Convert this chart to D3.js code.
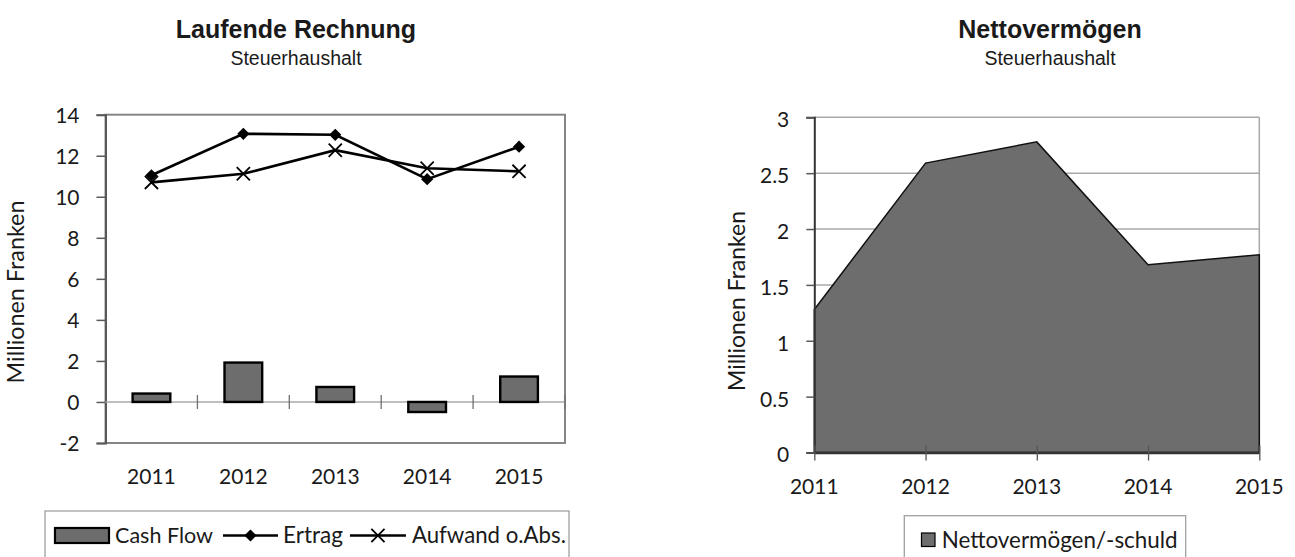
<!DOCTYPE html>
<html>
<head>
<meta charset="utf-8">
<script src="https://cdn.jsdelivr.net/npm/d3@7"></script>
<style>
  html, body { margin: 0; padding: 0; background: #fff; }
  svg { display: block; }
  text { font-family: Lato, "Open Sans", sans-serif; fill: #1a1a1a; }
  .title { font-family: "Liberation Sans", Arial, sans-serif; font-weight: bold; }
  .subtitle { font-family: "Liberation Sans", Arial, sans-serif; }
</style>
</head>
<body>
<svg id="chart" width="1295" height="557"></svg>
<script>
// Jahre (Kategorien)
const years = ["2011", "2012", "2013", "2014", "2015"];

// Laufende Rechnung, Steuerhaushalt (Mio. Fr.)
const cashFlow = [0.41, 1.92, 0.73, -0.49, 1.24];
const ertrag   = [11.05, 13.07, 13.02, 10.86, 12.44];
const aufwand  = [10.70, 11.12, 12.27, 11.39, 11.24];

// Nettovermögen / -schuld (Mio. Fr.)
const netto = [1.28, 2.59, 2.78, 1.68, 1.77];

// Achsenbeschriftungen
const leftTicks  = [-2, 0, 2, 4, 6, 8, 10, 12, 14];
const rightTicks = [0, 0.5, 1, 1.5, 2, 2.5, 3];

const svg = d3.select("#chart");
const FS = 21;            // Schriftgrösse Achsenbeschriftung
const AXIS = "#595959", BORDER = "#868686", GRID = "#a8a8a8", FILL = "#6d6d6d";

// Schrift so skalieren, dass der Text eine vorgegebene Breite einnimmt
function fitWidth(sel, width) {
  sel.style("font-size", "20px");
  const w = sel.node().getComputedTextLength();
  sel.style("font-size", (20 * width / w).toFixed(2) + "px");
  return sel;
}

// ---------- Titel ----------
function titles(cx, main) {
  svg.append("text").attr("class", "title").attr("x", cx).attr("y", 38)
    .attr("text-anchor", "middle").style("font-size", "25px").text(main);
  svg.append("text").attr("class", "subtitle").attr("x", cx).attr("y", 64.5)
    .attr("text-anchor", "middle").style("font-size", "19.5px").text("Steuerhaushalt");
}
titles(296, "Laufende Rechnung");
titles(1050, "Nettovermögen");

// ---------- Linkes Diagramm: Laufende Rechnung ----------
const L = { left: 105.5, right: 565, top: 114.7, bottom: 443 };
const xL = d3.scaleBand().domain(years).range([L.left, L.right]).paddingInner(0).paddingOuter(0);
const yL = d3.scaleLinear().domain([-2, 14]).range([L.bottom, L.top]);
const gL = svg.append("g");

// Rahmen der Zeichenfläche
gL.append("rect").attr("x", L.left).attr("y", L.top)
  .attr("width", L.right - L.left).attr("height", L.bottom - L.top)
  .attr("fill", "none").attr("stroke", BORDER).attr("stroke-width", 2);

// Y-Achse
const axL = gL.append("g").attr("transform", `translate(${L.left},0)`)
  .call(d3.axisLeft(yL).tickValues(leftTicks).tickSize(9).tickPadding(17).tickFormat(d => String(d)));
axL.select(".domain").attr("stroke", AXIS).attr("stroke-width", 2);
axL.selectAll(".tick line").attr("stroke", AXIS).attr("stroke-width", 1.5);
axL.selectAll(".tick text").style("font-size", FS + "px").attr("fill", "#1a1a1a")
  .attr("font-family", "Lato").attr("dy", "0.38em");

// Nulllinie mit Kategorien-Strichen
gL.append("line").attr("x1", L.left).attr("x2", L.right)
  .attr("y1", yL(0)).attr("y2", yL(0)).attr("stroke", GRID).attr("stroke-width", 1.5);
gL.append("g").selectAll("line").data(years.slice(1).concat(["end"])).join("line")
  .attr("x1", d => d === "end" ? L.right : xL(d)).attr("x2", d => d === "end" ? L.right : xL(d))
  .attr("y1", yL(0) - 7).attr("y2", yL(0) + 7)
  .attr("stroke", "#707070").attr("stroke-width", 1.3);

// X-Beschriftung
gL.append("g").selectAll("text").data(years).join("text")
  .attr("x", d => xL(d) + xL.bandwidth() / 2).attr("y", 483.5)
  .attr("text-anchor", "middle").style("font-size", FS + "px").text(d => d);

// Balken Cash Flow
const bw = xL.bandwidth() * 0.41;
gL.append("g").selectAll("rect").data(years).join("rect")
  .attr("x", d => xL(d) + xL.bandwidth() / 2 - bw / 2)
  .attr("width", bw)
  .attr("y", (d, i) => yL(Math.max(0, cashFlow[i])))
  .attr("height", (d, i) => Math.abs(yL(cashFlow[i]) - yL(0)))
  .attr("fill", FILL).attr("stroke", "#000").attr("stroke-width", 2.4);

// Linien
const cx = d => xL(d) + xL.bandwidth() / 2;
const lineL = d3.line().x(d => cx(d.year)).y(d => yL(d.v));
const ertragPts  = years.map((y, i) => ({ year: y, v: ertrag[i] }));
const aufwandPts = years.map((y, i) => ({ year: y, v: aufwand[i] }));

gL.append("path").datum(aufwandPts).attr("d", lineL)
  .attr("fill", "none").attr("stroke", "#000").attr("stroke-width", 2.6);
gL.append("path").datum(ertragPts).attr("d", lineL)
  .attr("fill", "none").attr("stroke", "#000").attr("stroke-width", 2.6);

const diamond = d3.symbol().type(d3.symbolDiamond2).size(95);
const cross   = d3.symbol().type(d3.symbolTimes).size(115);

gL.append("g").selectAll("path").data(aufwandPts).join("path")
  .attr("transform", d => `translate(${cx(d.year)},${yL(d.v)})`)
  .attr("d", cross).attr("fill", "none").attr("stroke", "#000").attr("stroke-width", 1.8);
gL.append("g").selectAll("path").data(ertragPts).join("path")
  .attr("transform", d => `translate(${cx(d.year)},${yL(d.v)})`)
  .attr("d", diamond).attr("fill", "#000");

// Achsentitel
fitWidth(svg.append("text").attr("transform", "translate(24,292) rotate(-90)")
  .attr("text-anchor", "middle").text("Millionen Franken"), 183);

// Legende links
const legL = svg.append("g");
legL.append("rect").attr("x", 45).attr("y", 511).attr("width", 524).attr("height", 70)
  .attr("fill", "#fff").attr("stroke", "#a0a0a0").attr("stroke-width", 1.3);
const ly = 535.5;
let lx = 55;
legL.append("rect").attr("x", lx).attr("y", ly - 7.5).attr("width", 54).attr("height", 15)
  .attr("fill", FILL).attr("stroke", "#000").attr("stroke-width", 2.2);
lx += 60;
let t = fitWidth(legL.append("text").attr("x", lx).attr("y", ly).attr("dy", "0.35em").text("Cash Flow"), 98);
lx += t.node().getComputedTextLength() + 10;
legL.append("line").attr("x1", lx).attr("x2", lx + 55).attr("y1", ly).attr("y2", ly)
  .attr("stroke", "#000").attr("stroke-width", 2.4);
legL.append("path").attr("transform", `translate(${lx + 27.5},${ly})`).attr("d", diamond).attr("fill", "#000");
lx += 60;
t = fitWidth(legL.append("text").attr("x", lx).attr("y", ly).attr("dy", "0.35em").text("Ertrag"), 60);
lx += t.node().getComputedTextLength() + 7;
legL.append("line").attr("x1", lx).attr("x2", lx + 56).attr("y1", ly).attr("y2", ly)
  .attr("stroke", "#000").attr("stroke-width", 2.4);
legL.append("path").attr("transform", `translate(${lx + 28},${ly})`).attr("d", cross)
  .attr("fill", "none").attr("stroke", "#000").attr("stroke-width", 1.8);
lx += 62;
fitWidth(legL.append("text").attr("x", lx).attr("y", ly).attr("dy", "0.35em").text("Aufwand o.Abs."), 154);

// ---------- Rechtes Diagramm: Nettovermögen ----------
const R = { left: 814.3, right: 1259.3, top: 117.3, bottom: 452.5 };
const xR = d3.scalePoint().domain(years).range([R.left, R.right]);
const yR = d3.scaleLinear().domain([0, 3]).range([R.bottom, R.top]);
const gR = svg.append("g");

// Gitterlinien
gR.append("g").selectAll("line").data(rightTicks.slice(1)).join("line")
  .attr("x1", R.left).attr("x2", R.right).attr("y1", d => yR(d)).attr("y2", d => yR(d))
  .attr("stroke", GRID).attr("stroke-width", 1.5);
gR.append("line").attr("x1", R.right).attr("x2", R.right).attr("y1", R.top).attr("y2", R.bottom)
  .attr("stroke", GRID).attr("stroke-width", 1.5);

// Fläche
const nettoPts = years.map((y, i) => ({ year: y, v: netto[i] }));
gR.append("path").datum(nettoPts)
  .attr("d", d3.area().x(d => xR(d.year)).y0(yR(0)).y1(d => yR(d.v)))
  .attr("fill", FILL).attr("stroke", "#111").attr("stroke-width", 1.5);

// Y-Achse
const axR = gR.append("g").attr("transform", `translate(${R.left},0)`)
  .call(d3.axisLeft(yR).tickValues(rightTicks).tickSize(8).tickPadding(17).tickFormat(d => String(d)));
axR.select(".domain").attr("stroke", "#333").attr("stroke-width", 2);
axR.selectAll(".tick line").attr("stroke", AXIS).attr("stroke-width", 1.5);
axR.selectAll(".tick text").style("font-size", FS + "px").attr("fill", "#1a1a1a")
  .attr("font-family", "Lato").attr("dy", "0.45em");

// X-Achse
const axRx = gR.append("g").attr("transform", `translate(0,${R.bottom})`)
  .call(d3.axisBottom(xR).tickSize(0).tickPadding(0));
axRx.select(".domain").attr("stroke", "#333").attr("stroke-width", 2.5);
axRx.selectAll(".tick text").remove();
axRx.selectAll(".tick line").attr("y1", -7).attr("y2", 8).attr("stroke", "#555").attr("stroke-width", 1.3);
gR.append("g").selectAll("text").data(years).join("text")
  .attr("x", d => xR(d)).attr("y", 494).attr("text-anchor", "middle")
  .style("font-size", FS + "px").text(d => d);

// Achsentitel
fitWidth(svg.append("text").attr("transform", "translate(745,301) rotate(-90)")
  .attr("text-anchor", "middle").text("Millionen Franken"), 180);

// Legende rechts
const legR = svg.append("g");
legR.append("rect").attr("x", 904.3).attr("y", 515.7).attr("width", 281.4).attr("height", 70)
  .attr("fill", "#fff").attr("stroke", "#a0a0a0").attr("stroke-width", 1.3);
legR.append("rect").attr("x", 921.5).attr("y", 533).attr("width", 13.5).attr("height", 13.5)
  .attr("fill", FILL).attr("stroke", "#000").attr("stroke-width", 1.2);
fitWidth(legR.append("text").attr("x", 941.7).attr("y", 539.7).attr("dy", "0.35em")
  .text("Nettovermögen/-schuld"), 236);
</script>
</body>
</html>
